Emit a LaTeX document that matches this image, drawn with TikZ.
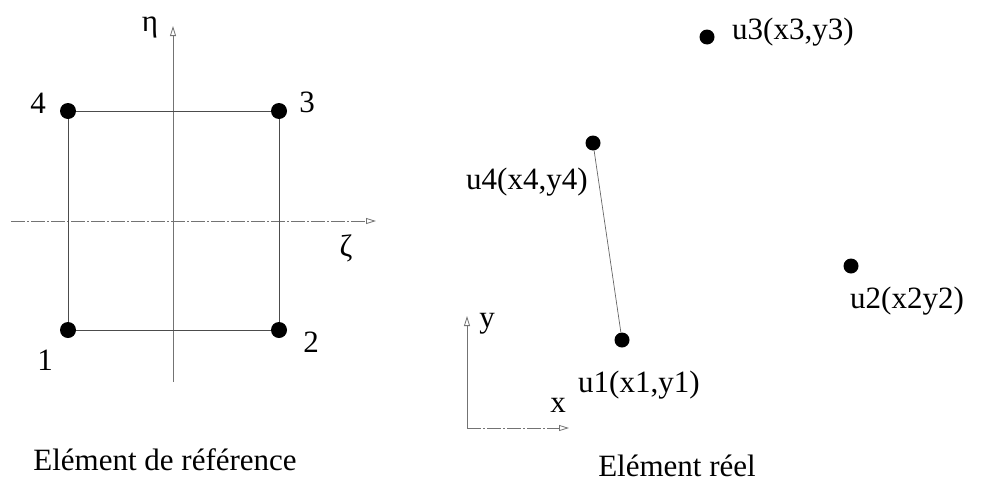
\documentclass[tikz,border=0pt]{standalone}
\usepackage{fontspec}
\setmainfont{Liberation Serif}
\usetikzlibrary{arrows.meta}
\begin{document}
\begin{tikzpicture}[x=1pt,y=-1pt,
  dot/.style={circle,fill=black,inner sep=0pt,minimum size=#1},
  dot/.default=16pt,
  lbl/.style={inner sep=0pt,font=\fontsize{31}{36}\selectfont},
  edge/.style={draw=black!70,line width=0.8pt},
  axis/.style={draw=black!55,line width=0.8pt,-{Triangle[open,length=10pt,width=6pt]}},
  daxis/.style={axis,dash pattern=on 14pt off 2pt on 2pt off 2pt}]
\useasboundingbox (0,0) rectangle (981,482);
% reference element
\coordinate (eb) at (173,382);
\coordinate (et) at (173,26);
\coordinate (zl) at (11,221);
\coordinate (zr) at (376,221);
\draw[axis] (eb) -- (et);
\draw[daxis] (zl) -- (zr);
\node[dot] (n1) at (68,330) {};
\node[dot] (n2) at (279,330) {};
\node[dot] (n3) at (279,111) {};
\node[dot] (n4) at (68,111) {};
\draw[edge] (n1) -- (n2) -- (n3) -- (n4) -- (n1);
\node[lbl,anchor=base] (l4) at (38,113) {4};
\node[lbl,anchor=base] (l3) at (307,112) {3};
\node[lbl,anchor=base] (l2) at (311,352) {2};
\node[lbl,anchor=base] (l1) at (45,370) {1};
\node[lbl,anchor=base] (eta) at (150,31) {η};
\node[lbl,anchor=base] (zeta) at (346,256) {ζ};
\node[lbl,anchor=base] (cap1) at (165,470) {Elément de référence};
% real element
\node[dot=15pt] (u1) at (622,340) {};
\node[dot=15pt] (u2) at (851,266) {};
\node[dot=15pt] (u3) at (707,37) {};
\node[dot=15pt] (u4) at (593,143) {};
\draw[draw=black!60,line width=0.7pt] (u4) -- (u1);
\node[lbl,anchor=base west] (t3) at (732,39) {u3(x3,y3)};
\node[lbl,anchor=base west] (t4) at (466,189) {u4(x4,y4)};
\node[lbl,anchor=base west] (t1) at (578,392) {u1(x1,y1)};
\node[lbl,anchor=base west] (t2) at (850,308) {u2(x2y2)};
\coordinate (o) at (467,428);
\coordinate (yt) at (467,316);
\coordinate (xt) at (569,428);
\draw[axis] (o) -- (yt);
\draw[daxis] (o) -- (xt);
\node[lbl] (ylab) at (487,324) {y};
\node[lbl] (xlab) at (558,405) {x};
\node[lbl,anchor=base] (cap2) at (677,476) {Elément réel};
\end{tikzpicture}
\end{document}
